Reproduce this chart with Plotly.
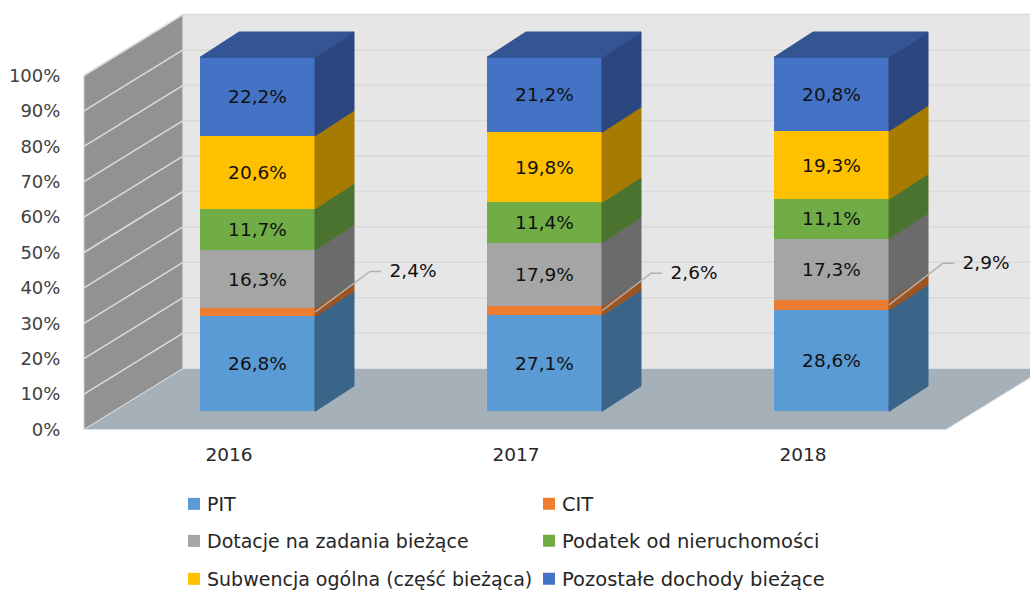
import plotly.graph_objects as go

years = [2016, 2017, 2018]
series_names = ["PIT", "CIT", "Dotacje na zadania bieżące", "Podatek od nieruchomości",
                "Subwencja ogólna (część bieżąca)", "Pozostałe dochody bieżące"]
pit = [26.8, 27.1, 28.6]
cit = [2.4, 2.6, 2.9]
dotacje = [16.3, 17.9, 17.3]
podatek = [11.7, 11.4, 11.1]
subwencja = [20.6, 19.8, 19.3]
pozostale = [22.2, 21.2, 20.8]
series_values = [pit, cit, dotacje, podatek, subwencja, pozostale]
front_colors = ["#5B9BD5", "#ED7D31", "#A5A5A5", "#70AD47", "#FFC000", "#4472C4"]
side_colors = ["#3A6488", "#9E5421", "#6B6B6B", "#4B7330", "#A67C00", "#2C477F"]
top_color = "#335593"
y_ticks = list(range(0, 101, 10))
y_tick_labels = [f"{t}%" for t in y_ticks]

W, H = 1030, 590
PX_PER_YEAR = 287.0
PX_PER_PCT = 3.54
X0_PX = 229.0          # pixel of first category on the front plane
Y0_AXIS_PX = 429.5     # pixel of 0 % on the front plane
Y0_BAR_PX = 411.3      # pixel of 0 % at the front of the bars

def xu(px):
    return px / PX_PER_YEAR

x_range = [years[0] - xu(X0_PX), years[0] + xu(W - X0_PX)]
y_range = [-(H - Y0_AXIS_PX) / PX_PER_PCT, Y0_AXIS_PX / PX_PER_PCT]
y2_range = [-(H - Y0_BAR_PX) / PX_PER_PCT, Y0_BAR_PX / PX_PER_PCT]

WALL_LEFT = years[0] - xu(X0_PX - 84)
WALL_DX = xu(99)
WALL_DY = 61 / PX_PER_PCT
FLOOR_RIGHT = years[0] + xu(946 - X0_PX)
BAR_OFFSET = -xu(29)
BAR_WIDTH = xu(115)
BAR_DX = xu(39)
BAR_DY = 25.3 / PX_PER_PCT

FONT = "DejaVu Sans"
fig = go.Figure()

def poly(xs, ys, color, axis="y", line=None):
    fig.add_trace(go.Scatter(x=xs + xs[:1], y=ys + ys[:1], mode="lines", fill="toself",
                             fillcolor=color, line=dict(color=line or color, width=1),
                             yaxis=axis, showlegend=False, hoverinfo="skip"))

# walls and floor (front-plane percent axis)
poly([WALL_LEFT, WALL_LEFT + WALL_DX, WALL_LEFT + WALL_DX, WALL_LEFT],
     [0, WALL_DY, 100 + WALL_DY, 100], "#929292", line="#D4D4D4")
poly([WALL_LEFT + WALL_DX, FLOOR_RIGHT + WALL_DX, FLOOR_RIGHT + WALL_DX, WALL_LEFT + WALL_DX],
     [WALL_DY, WALL_DY, 100 + WALL_DY, 100 + WALL_DY], "#E6E6E6", line="#DCDCDC")
poly([WALL_LEFT, FLOOR_RIGHT, FLOOR_RIGHT + WALL_DX, WALL_LEFT + WALL_DX],
     [0, 0, WALL_DY, WALL_DY], "#A6B0B9", line="#D9DEE2")

for t in y_ticks[1:]:
    fig.add_trace(go.Scatter(x=[WALL_LEFT, WALL_LEFT + WALL_DX], y=[t, t + WALL_DY], mode="lines",
                             line=dict(color="#DCDCDC", width=1.5), showlegend=False, hoverinfo="skip"))
    fig.add_trace(go.Scatter(x=[WALL_LEFT + WALL_DX, FLOOR_RIGHT + WALL_DX], y=[t + WALL_DY, t + WALL_DY],
                             mode="lines", line=dict(color="#D9D9D9", width=1.5),
                             showlegend=False, hoverinfo="skip"))

# front faces: stacked bars with their own labels and legend entries
legend_pos = [(167, 504), (522, 504), (167, 541), (522, 541), (167, 579), (522, 579)]
legend_sizes = [19, 19.5, 19, 19.5, 19, 19.5]
for i, (name, vals, col) in enumerate(zip(series_names, series_values, front_colors)):
    lab = "" if name == "CIT" else [f"{v:.1f}%".replace(".", ",") for v in vals]
    fig.add_trace(go.Bar(x=years, y=vals, name=name, marker=dict(color=col, line=dict(width=0)),
                         width=BAR_WIDTH, offset=BAR_OFFSET, yaxis="y2",
                         text=lab if lab else None, textposition="inside" if lab else "none",
                         insidetextanchor="middle", textangle=0, constraintext="none",
                         textfont=dict(color="#111111", size=18.5, family=FONT),
                         legend="legend" if i == 0 else f"legend{i + 1}", hoverinfo="skip"))

# side and top faces
for k, yr in enumerate(years):
    xr = yr + BAR_OFFSET + BAR_WIDTH
    xl = yr + BAR_OFFSET
    base = 0.0
    for vals, col in zip(series_values, side_colors):
        top = base + vals[k]
        poly([xr, xr + BAR_DX, xr + BAR_DX, xr], [base, base + BAR_DY, top + BAR_DY, top], col, axis="y2")
        base = top
    poly([xl, xr, xr + BAR_DX, xl + BAR_DX], [base, base, base + BAR_DY, base + BAR_DY], top_color, axis="y2")

# outside labels of CIT with leader lines
label_dy = [11.2, 10.3, 11.5]
label_dx = [xu(98), xu(92), xu(97)]
for k, yr in enumerate(years):
    xr = yr + BAR_OFFSET + BAR_WIDTH
    mid = pit[k] + cit[k] / 2
    fig.add_trace(go.Scatter(
        x=[xr, xr + label_dx[k] - xu(43), xr + label_dx[k] - xu(32)],
        y=[mid, mid + label_dy[k] + 0.3, mid + label_dy[k] + 0.3], mode="lines",
        line=dict(color="#B0B0B0", width=1.5), yaxis="y2", showlegend=False, hoverinfo="skip"))
    fig.add_trace(go.Scatter(
        x=[xr + label_dx[k]], y=[mid + label_dy[k]], mode="text",
        text=[f"{cit[k]:.1f}%".replace(".", ",")], textposition="middle center",
        textfont=dict(color="#111111", size=18.5, family=FONT), yaxis="y2",
        showlegend=False, hoverinfo="skip"))

layout_legends = {}
for i, (lx, ly) in enumerate(legend_pos):
    key = "legend" if i == 0 else f"legend{i + 1}"
    layout_legends[key] = dict(x=lx / W, y=1 - ly / H, xanchor="left", yanchor="middle",
                               bgcolor="rgba(0,0,0,0)",
                               font=dict(size=legend_sizes[i], color="#262626", family=FONT),
                               itemwidth=30)

fig.update_layout(
    width=W, height=H, autosize=False, margin=dict(l=0, r=0, t=0, b=0, autoexpand=False),
    paper_bgcolor="white", plot_bgcolor="white", barmode="stack",
    font=dict(family=FONT, size=18, color="#404040"),
    xaxis=dict(range=x_range, domain=[0, 1], anchor="free", position=(H - Y0_AXIS_PX) / H,
               tickvals=years, ticktext=[str(y) for y in years], showgrid=False, zeroline=False,
               showline=False, ticks="outside", ticklen=8, tickcolor="rgba(0,0,0,0)",
               tickfont=dict(size=18.5, color="#262626")),
    yaxis=dict(range=y_range, domain=[0, 1], anchor="free", position=84 / W, side="left",
               tickvals=y_ticks, ticktext=y_tick_labels, showgrid=False, zeroline=False, showline=False,
               ticks="outside", ticklen=20, tickcolor="rgba(0,0,0,0)",
               tickfont=dict(size=18, color="#404040")),
    yaxis2=dict(range=y2_range, domain=[0, 1], overlaying="y", visible=False),
    **layout_legends,
)
fig.write_html("out.html", config={"displayModeBar": False}, post_script=(
    "document.body.style.margin='0';"
    "document.querySelectorAll('.legendsymbols').forEach(function(e){e.setAttribute('transform','translate(7,0)');});"
))
